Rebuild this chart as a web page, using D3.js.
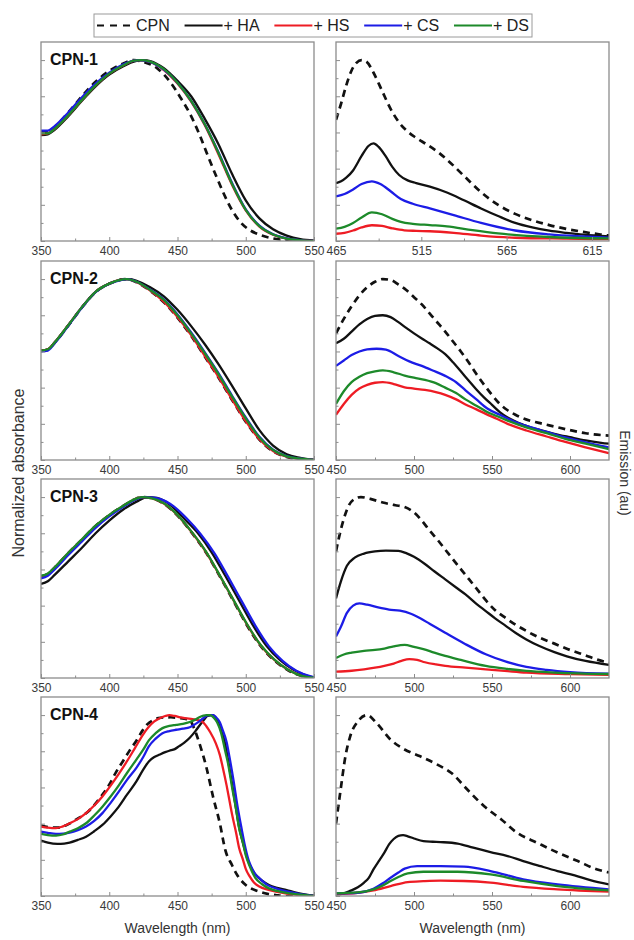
<!DOCTYPE html>
<html>
<head>
<meta charset="utf-8">
<script src="https://cdn.jsdelivr.net/npm/d3@7"></script>
<style>
  html, body { margin: 0; padding: 0; background: #fff; }
  svg { display: block; font-family: "Liberation Sans", Arial, Helvetica, sans-serif; }
</style>
</head>
<body>
<svg id="chart" width="634" height="940"></svg>
<script>
// ---- series & labels ----
const seriesNames  = ["CPN", "+ HA", "+ HS", "+ CS", "+ DS"];
const seriesColors = ["#111111", "#111111", "#ee1c24", "#1c1ce6", "#1d8a2a"];
const seriesDashed = [true, false, false, false, false];
const panelTitles  = ["CPN-1", "CPN-2", "CPN-3", "CPN-4"];

// ---- axes ----
const absDomain = [350, 550];
const absTicks  = [350, 400, 450, 500, 550];
const absMinor  = [375, 425, 475, 525];
const emDomains = [[465, 625], [450, 625], [450, 625], [450, 625]];
const emTicks   = [[465, 515, 565, 615], [450, 500, 550, 600], [450, 500, 550, 600], [450, 500, 550, 600]];
const emMinor   = [[490, 540, 590], [475, 525, 575], [475, 525, 575], [475, 525, 575]];
const yMajor    = [0, 0.2, 0.4, 0.6, 0.8, 1.0];
const yMinor    = [0.1, 0.3, 0.5, 0.7, 0.9];

// ---- CPN-1 absorbance [nm, normalized] ----
const abs1CPN = [[350,0.6],[355,0.6],[360,0.63],[370,0.71],[380,0.8],[390,0.88],[400,0.94],[410,0.98],[418,1.0],[425,0.99],[435,0.955],[445,0.875],[452,0.795],[460,0.69],[466,0.59],[472,0.475],[478,0.365],[484,0.26],[490,0.17],[496,0.105],[503,0.06],[510,0.035],[520,0.014],[535,0.004],[550,0.0]];
const abs1HA  = [[350,0.585],[355,0.59],[360,0.615],[370,0.69],[380,0.775],[390,0.855],[400,0.92],[410,0.965],[420,0.995],[425,1.0],[430,0.995],[440,0.955],[450,0.885],[460,0.8],[470,0.675],[480,0.535],[490,0.37],[500,0.225],[510,0.125],[520,0.065],[530,0.03],[540,0.01],[550,0.002]];
const abs1HS  = [[350,0.59],[355,0.595],[360,0.62],[370,0.695],[380,0.78],[390,0.86],[400,0.925],[410,0.97],[418,0.997],[422,1.0],[430,0.99],[440,0.945],[450,0.87],[460,0.77],[470,0.64],[480,0.48],[490,0.31],[500,0.17],[510,0.08],[520,0.035],[530,0.013],[540,0.004],[550,0.0]];
const abs1CS  = [[350,0.61],[355,0.61],[360,0.635],[370,0.71],[380,0.795],[390,0.87],[400,0.93],[410,0.975],[418,0.997],[422,1.0],[430,0.99],[440,0.947],[450,0.875],[460,0.775],[470,0.645],[480,0.49],[490,0.32],[500,0.175],[510,0.085],[520,0.037],[530,0.014],[540,0.004],[550,0.0]];
const abs1DS  = [[350,0.595],[355,0.595],[360,0.62],[370,0.695],[380,0.78],[390,0.86],[400,0.925],[410,0.97],[418,0.997],[423,1.0],[430,0.992],[440,0.95],[450,0.875],[460,0.775],[470,0.645],[480,0.487],[490,0.315],[500,0.172],[510,0.082],[520,0.036],[530,0.013],[540,0.004],[550,0.0]];

// ---- CPN-1 emission [nm, au] ----
const em1CPN = [[465,0.67],[468,0.76],[471,0.86],[474,0.94],[477,0.985],[480,1.0],[483,0.99],[487,0.93],[492,0.83],[497,0.73],[502,0.655],[507,0.605],[512,0.57],[518,0.535],[525,0.49],[530,0.45],[540,0.36],[550,0.27],[560,0.2],[570,0.15],[580,0.115],[590,0.088],[600,0.067],[610,0.05],[620,0.036],[625,0.03]];
const em1HA  = [[465,0.32],[468,0.33],[471,0.35],[475,0.39],[480,0.47],[484,0.525],[487,0.54],[490,0.52],[494,0.47],[498,0.41],[502,0.365],[507,0.335],[512,0.32],[520,0.3],[530,0.268],[540,0.225],[550,0.18],[560,0.138],[570,0.1],[580,0.075],[590,0.057],[600,0.045],[610,0.035],[625,0.026]];
const em1HS  = [[465,0.04],[470,0.045],[475,0.058],[480,0.075],[486,0.087],[492,0.083],[498,0.07],[505,0.059],[512,0.056],[520,0.054],[534,0.045],[550,0.03],[570,0.018],[600,0.013],[625,0.01]];
const em1CS  = [[465,0.247],[470,0.26],[475,0.285],[480,0.315],[486,0.33],[491,0.315],[497,0.275],[503,0.232],[510,0.206],[520,0.18],[534,0.143],[550,0.1],[570,0.058],[590,0.037],[610,0.025],[625,0.018]];
const em1DS  = [[465,0.068],[470,0.078],[475,0.1],[480,0.13],[486,0.158],[492,0.148],[498,0.122],[503,0.106],[510,0.095],[520,0.088],[530,0.081],[545,0.06],[560,0.042],[590,0.022],[625,0.014]];

// ---- CPN-2 absorbance ----
const abs2CPN = [[350,0.603],[355,0.61],[360,0.648],[370,0.743],[380,0.843],[390,0.928],[400,0.974],[410,0.998],[413,1.0],[420,0.982],[430,0.935],[440,0.872],[450,0.787],[460,0.686],[470,0.572],[480,0.456],[490,0.332],[500,0.212],[510,0.113],[520,0.048],[530,0.017],[540,0.005],[550,0.0]];
const abs2HA  = [[350,0.605],[355,0.612],[360,0.65],[370,0.745],[380,0.845],[390,0.93],[400,0.975],[410,0.998],[415,1.0],[420,0.99],[430,0.955],[440,0.905],[450,0.83],[460,0.74],[470,0.64],[480,0.53],[490,0.41],[500,0.285],[510,0.165],[520,0.08],[530,0.032],[540,0.012],[550,0.0]];
const abs2HS  = [[350,0.605],[355,0.612],[360,0.65],[370,0.745],[380,0.845],[390,0.93],[400,0.975],[410,0.998],[413,1.0],[420,0.983],[430,0.937],[440,0.875],[450,0.79],[460,0.69],[470,0.575],[480,0.46],[490,0.335],[500,0.215],[510,0.115],[520,0.05],[530,0.018],[540,0.006],[550,0.0]];
const abs2CS  = [[350,0.6],[355,0.605],[360,0.645],[370,0.742],[380,0.843],[390,0.928],[400,0.974],[410,0.997],[413,1.0],[420,0.985],[430,0.942],[440,0.888],[450,0.805],[460,0.705],[470,0.595],[480,0.48],[490,0.355],[500,0.235],[510,0.128],[520,0.057],[530,0.021],[540,0.007],[550,0.0]];
const abs2DS  = [[350,0.605],[355,0.612],[360,0.65],[370,0.745],[380,0.845],[390,0.93],[400,0.975],[410,0.998],[413,1.0],[420,0.985],[430,0.94],[440,0.885],[450,0.8],[460,0.7],[470,0.59],[480,0.475],[490,0.35],[500,0.23],[510,0.125],[520,0.055],[530,0.02],[540,0.007],[550,0.0]];

// ---- CPN-2 emission ----
const em2CPN = [[450,0.7],[455,0.78],[460,0.85],[465,0.91],[470,0.955],[475,0.985],[480,1.0],[485,0.995],[490,0.97],[495,0.94],[500,0.9],[505,0.86],[510,0.81],[515,0.76],[520,0.71],[525,0.655],[530,0.6],[535,0.54],[540,0.475],[545,0.415],[550,0.36],[555,0.31],[560,0.275],[565,0.25],[570,0.23],[580,0.205],[590,0.185],[600,0.165],[610,0.148],[620,0.138],[625,0.135]];
const em2HA  = [[450,0.645],[455,0.67],[460,0.71],[465,0.75],[470,0.78],[475,0.797],[480,0.8],[485,0.79],[490,0.762],[495,0.73],[500,0.7],[505,0.672],[510,0.645],[515,0.617],[520,0.585],[525,0.54],[530,0.49],[535,0.44],[540,0.39],[545,0.345],[550,0.305],[555,0.265],[560,0.235],[570,0.195],[580,0.168],[590,0.145],[600,0.126],[610,0.108],[620,0.095],[625,0.09]];
const em2HS  = [[450,0.25],[455,0.31],[460,0.36],[465,0.395],[470,0.415],[475,0.427],[480,0.43],[487,0.42],[494,0.402],[500,0.395],[507,0.387],[514,0.375],[520,0.36],[527,0.335],[533,0.307],[540,0.28],[546,0.255],[553,0.228],[560,0.2],[572,0.163],[585,0.13],[597,0.1],[610,0.07],[625,0.037]];
const em2CS  = [[450,0.52],[455,0.55],[460,0.58],[465,0.6],[470,0.612],[476,0.615],[482,0.61],[490,0.575],[497,0.545],[505,0.52],[512,0.495],[520,0.465],[527,0.43],[533,0.385],[540,0.335],[547,0.285],[555,0.25],[565,0.21],[575,0.18],[585,0.155],[597,0.125],[610,0.098],[625,0.07]];
const em2DS  = [[450,0.31],[455,0.38],[460,0.43],[465,0.46],[470,0.48],[475,0.49],[480,0.495],[487,0.485],[494,0.467],[500,0.455],[507,0.443],[514,0.425],[520,0.4],[527,0.37],[533,0.335],[540,0.3],[546,0.27],[553,0.243],[560,0.218],[572,0.18],[585,0.148],[597,0.117],[610,0.09],[625,0.06]];

// ---- CPN-3 absorbance ----
const abs3CPN = [[350,0.56],[355,0.575],[360,0.61],[370,0.69],[380,0.765],[390,0.84],[400,0.9],[410,0.95],[418,0.985],[424,1.0],[430,0.995],[440,0.963],[450,0.898],[461,0.798],[471,0.692],[481,0.562],[491,0.426],[501,0.29],[511,0.176],[521,0.097],[531,0.043],[541,0.011],[550,0.002]];
const abs3HA  = [[350,0.52],[355,0.535],[360,0.57],[370,0.645],[380,0.72],[390,0.8],[400,0.87],[410,0.93],[420,0.975],[428,1.0],[435,0.995],[445,0.955],[455,0.88],[465,0.8],[475,0.695],[485,0.565],[495,0.43],[505,0.295],[515,0.18],[525,0.1],[535,0.045],[545,0.012],[550,0.003]];
const abs3HS  = [[350,0.56],[355,0.575],[360,0.61],[370,0.69],[380,0.765],[390,0.84],[400,0.9],[410,0.95],[418,0.985],[424,1.0],[430,0.995],[440,0.965],[450,0.9],[461,0.8],[471,0.695],[481,0.565],[491,0.43],[501,0.295],[511,0.18],[521,0.1],[531,0.045],[541,0.012],[550,0.002]];
const abs3CS  = [[350,0.55],[355,0.565],[360,0.6],[370,0.68],[380,0.755],[390,0.83],[400,0.893],[410,0.945],[418,0.982],[425,1.0],[432,0.997],[437,0.99],[447,0.95],[457,0.88],[467,0.795],[477,0.69],[487,0.56],[497,0.425],[507,0.29],[517,0.175],[527,0.095],[537,0.04],[547,0.01],[550,0.004]];
const abs3DS  = [[350,0.565],[355,0.578],[360,0.612],[370,0.692],[380,0.767],[390,0.842],[400,0.902],[410,0.951],[418,0.986],[424,1.0],[430,0.995],[440,0.966],[450,0.902],[461,0.802],[471,0.697],[481,0.567],[491,0.432],[501,0.297],[511,0.182],[521,0.101],[531,0.046],[541,0.012],[550,0.002]];

// ---- CPN-3 emission ----
const em3CPN = [[450,0.7],[452,0.78],[455,0.88],[458,0.95],[462,0.99],[466,1.0],[472,0.99],[480,0.97],[488,0.955],[494,0.945],[500,0.915],[505,0.87],[510,0.815],[515,0.765],[520,0.71],[526,0.645],[533,0.57],[540,0.495],[546,0.43],[552,0.375],[559,0.33],[565,0.295],[572,0.26],[580,0.225],[590,0.19],[600,0.155],[610,0.125],[618,0.1],[625,0.085]];
const em3HA  = [[450,0.44],[453,0.53],[457,0.62],[462,0.665],[468,0.688],[475,0.7],[482,0.704],[490,0.703],[495,0.69],[500,0.67],[507,0.63],[513,0.59],[520,0.545],[527,0.5],[533,0.462],[540,0.41],[546,0.37],[552,0.33],[559,0.287],[565,0.25],[572,0.213],[580,0.178],[590,0.143],[598,0.12],[610,0.094],[625,0.072]];
const em3HS  = [[450,0.035],[460,0.04],[468,0.048],[475,0.057],[481,0.067],[487,0.08],[492,0.095],[497,0.104],[502,0.1],[507,0.087],[514,0.075],[520,0.067],[533,0.057],[546,0.048],[560,0.038],[572,0.03],[600,0.022],[625,0.017]];
const em3CS  = [[450,0.23],[453,0.28],[457,0.36],[461,0.4],[465,0.412],[470,0.405],[477,0.39],[484,0.378],[491,0.372],[498,0.355],[504,0.33],[510,0.3],[520,0.25],[533,0.187],[546,0.131],[559,0.09],[572,0.061],[585,0.045],[600,0.033],[625,0.024]];
const em3DS  = [[450,0.11],[455,0.13],[460,0.14],[468,0.15],[475,0.155],[481,0.163],[487,0.175],[494,0.183],[500,0.172],[506,0.16],[513,0.14],[520,0.122],[530,0.1],[546,0.067],[560,0.05],[572,0.039],[590,0.03],[625,0.022]];

// ---- CPN-4 absorbance ----
const abs4CPN = [[350,0.39],[356,0.38],[362,0.378],[368,0.39],[376,0.424],[385,0.47],[393,0.54],[400,0.615],[405,0.685],[410,0.745],[415,0.805],[420,0.86],[424,0.91],[428,0.95],[432,0.97],[436,0.983],[440,0.987],[445,0.988],[450,0.985],[455,0.98],[459,0.972],[462,0.93],[466,0.845],[471,0.716],[476,0.55],[481,0.402],[485,0.255],[490,0.17],[493,0.125],[500,0.061],[505,0.038],[510,0.024],[516,0.012],[522,0.005],[527,0.0],[550,0.0]];
const abs4HA  = [[350,0.306],[355,0.295],[362,0.288],[367,0.29],[371,0.295],[377,0.31],[383,0.328],[389,0.358],[395,0.393],[401,0.44],[407,0.494],[413,0.56],[420,0.635],[425,0.7],[429,0.744],[433,0.768],[437,0.782],[441,0.795],[444,0.803],[448,0.812],[451,0.827],[455,0.848],[459,0.875],[463,0.91],[466,0.941],[469,0.97],[472,0.996],[476,1.0],[478,0.985],[480,0.955],[482,0.915],[485,0.84],[487,0.753],[490,0.62],[493,0.476],[495,0.385],[498,0.292],[500,0.235],[503,0.17],[507,0.12],[512,0.085],[517,0.061],[523,0.045],[530,0.033],[536,0.02],[542,0.01],[550,0.002]];
const abs4HS  = [[350,0.384],[355,0.378],[361,0.375],[366,0.385],[371,0.402],[377,0.425],[383,0.458],[389,0.5],[395,0.55],[401,0.61],[407,0.675],[413,0.745],[419,0.82],[425,0.895],[429,0.935],[433,0.965],[437,0.983],[441,0.995],[444,1.0],[448,0.995],[452,0.987],[457,0.982],[461,0.978],[465,0.972],[468,0.965],[471,0.94],[474,0.905],[478,0.845],[481,0.78],[483,0.716],[486,0.61],[488,0.531],[490,0.45],[493,0.347],[495,0.27],[498,0.2],[500,0.15],[503,0.107],[506,0.075],[510,0.052],[516,0.035],[522,0.024],[530,0.013],[537,0.007],[550,0.0]];
const abs4CS  = [[350,0.356],[355,0.349],[361,0.343],[366,0.344],[371,0.35],[377,0.364],[383,0.384],[389,0.415],[395,0.458],[401,0.515],[407,0.577],[413,0.642],[420,0.71],[425,0.77],[429,0.827],[434,0.87],[439,0.9],[444,0.912],[449,0.919],[454,0.925],[459,0.933],[463,0.95],[466,0.965],[470,0.99],[473,1.0],[476,1.0],[478,0.99],[481,0.96],[483,0.919],[486,0.85],[488,0.771],[491,0.64],[494,0.494],[497,0.37],[499,0.292],[502,0.2],[504,0.162],[507,0.12],[510,0.098],[516,0.06],[522,0.042],[530,0.025],[540,0.01],[550,0.0]];
const abs4DS  = [[350,0.343],[355,0.337],[361,0.334],[366,0.34],[371,0.356],[377,0.375],[383,0.402],[389,0.445],[395,0.494],[401,0.55],[407,0.612],[413,0.68],[420,0.755],[425,0.81],[429,0.86],[434,0.9],[439,0.928],[444,0.94],[449,0.946],[454,0.952],[459,0.962],[463,0.975],[466,0.988],[469,0.997],[471,1.0],[474,1.0],[476,0.99],[479,0.96],[482,0.9],[485,0.8],[487,0.734],[490,0.6],[493,0.476],[495,0.38],[498,0.292],[500,0.225],[503,0.162],[507,0.1],[512,0.065],[517,0.042],[523,0.028],[530,0.017],[540,0.007],[550,0.0]];

// ---- CPN-4 emission ----
const em4CPN = [[450,0.4],[453,0.59],[456,0.77],[459,0.88],[464,0.965],[470,1.0],[476,0.956],[485,0.864],[494,0.81],[504,0.772],[515,0.726],[524,0.68],[534,0.59],[545,0.496],[556,0.423],[566,0.35],[579,0.294],[592,0.24],[605,0.193],[617,0.148],[625,0.13]];
const em4HA  = [[450,0.009],[455,0.015],[459,0.028],[464,0.048],[468,0.074],[471,0.1],[474,0.147],[478,0.2],[481,0.24],[484,0.285],[487,0.315],[490,0.332],[493,0.336],[496,0.33],[500,0.318],[506,0.303],[512,0.3],[517,0.298],[528,0.29],[538,0.267],[549,0.243],[560,0.221],[570,0.193],[581,0.165],[592,0.138],[603,0.114],[613,0.088],[625,0.064]];
const em4HS  = [[450,0.011],[464,0.018],[474,0.031],[485,0.055],[496,0.077],[506,0.082],[517,0.085],[532,0.083],[549,0.074],[570,0.051],[592,0.037],[625,0.024]];
const em4CS  = [[450,0.015],[464,0.018],[474,0.04],[480,0.07],[485,0.101],[490,0.13],[494,0.151],[502,0.165],[517,0.165],[532,0.162],[549,0.138],[570,0.092],[592,0.064],[625,0.037]];
const em4DS  = [[450,0.015],[464,0.02],[474,0.037],[480,0.058],[485,0.083],[490,0.105],[496,0.125],[506,0.134],[528,0.134],[549,0.119],[570,0.083],[592,0.055],[625,0.031]];

// series grouped per panel, in legend order
const absorbance = [
  [abs1CPN, abs1HA, abs1HS, abs1CS, abs1DS],
  [abs2CPN, abs2HA, abs2HS, abs2CS, abs2DS],
  [abs3CPN, abs3HA, abs3HS, abs3CS, abs3DS],
  [abs4CPN, abs4HA, abs4HS, abs4CS, abs4DS]
];
const emission = [
  [em1CPN, em1HA, em1HS, em1CS, em1DS],
  [em2CPN, em2HA, em2HS, em2CS, em2DS],
  [em3CPN, em3HA, em3HS, em3CS, em3DS],
  [em4CPN, em4HA, em4HS, em4CS, em4DS]
];

// ---- layout ----
const svg = d3.select("#chart");
const leftX = [41, 314], rightX = [336, 609];
const panelTops = [42, 261, 479, 697];
const panelH = 199;
const frameColor = "#8c8c8c";
const tickTextColor = "#3a3a3a";

svg.append("rect").attr("width", 634).attr("height", 940).attr("fill", "#fff");

function drawPanel(g, xRange, xDomain, majorX, minorX, top, series, title, showXTitle) {
  const x = d3.scaleLinear().domain(xDomain).range(xRange);
  const y = d3.scaleLinear().domain([0, 1.1]).range([top + panelH, top]);
  const bottom = top + panelH;

  const clipId = "clip" + Math.round(xRange[0]) + "_" + top;
  svg.append("clipPath").attr("id", clipId)
    .append("rect").attr("x", xRange[0]).attr("y", top)
    .attr("width", xRange[1] - xRange[0]).attr("height", panelH);

  // curves
  const line = d3.line().x(d => x(d[0])).y(d => y(d[1])).curve(d3.curveMonotoneX);
  const curves = g.append("g").attr("clip-path", `url(#${clipId})`);
  series.forEach((s, i) => {
    curves.append("path")
      .attr("d", line(s))
      .attr("fill", "none")
      .attr("stroke", seriesColors[i])
      .attr("stroke-width", seriesDashed[i] ? 2.7 : 2.3)
      .attr("stroke-dasharray", seriesDashed[i] ? "7,5" : null)
      .attr("stroke-linejoin", "round");
  });

  // bottom axis: labelled major ticks, pointing inward
  const xAxis = g.append("g").attr("transform", `translate(0,${bottom})`)
    .call(d3.axisBottom(x).tickValues(majorX).tickSize(-4).tickPadding(5).tickFormat(d3.format("d")));
  g.append("g").attr("transform", `translate(0,${bottom})`)
    .call(d3.axisBottom(x).tickValues(minorX).tickSize(-2.5).tickFormat(""))
    .call(a => a.select(".domain").remove());
  xAxis.select(".domain").remove();
  g.selectAll(".tick line").attr("stroke", frameColor).attr("stroke-width", 1);
  xAxis.selectAll(".tick text")
    .attr("fill", tickTextColor)
    .style("font-size", "12px")
    .style("font-family", "'Liberation Sans', Arial, sans-serif");

  // left axis: unlabelled inward ticks
  g.append("g").attr("transform", `translate(${xRange[0]},0)`)
    .call(d3.axisLeft(y).tickValues(yMajor).tickSize(-4).tickFormat(""))
    .call(a => a.select(".domain").remove())
    .selectAll(".tick line").attr("stroke", frameColor).attr("stroke-width", 1);
  g.append("g").attr("transform", `translate(${xRange[0]},0)`)
    .call(d3.axisLeft(y).tickValues(yMinor).tickSize(-2.5).tickFormat(""))
    .call(a => a.select(".domain").remove())
    .selectAll(".tick line").attr("stroke", frameColor).attr("stroke-width", 1);

  // frame
  g.append("rect")
    .attr("x", xRange[0]).attr("y", top)
    .attr("width", xRange[1] - xRange[0]).attr("height", panelH)
    .attr("fill", "none").attr("stroke", frameColor).attr("stroke-width", 1.3);

  if (title) {
    g.append("text").attr("x", xRange[0] + 9).attr("y", top + 23)
      .attr("font-size", 16).attr("font-weight", "bold").attr("fill", "#111")
      .text(title);
  }
  if (showXTitle) {
    g.append("text")
      .attr("x", (xRange[0] + xRange[1]) / 2).attr("y", bottom + 37)
      .attr("text-anchor", "middle").attr("font-size", 14).attr("fill", "#333")
      .text("Wavelength (nm)");
  }
}

panelTitles.forEach((t, p) => {
  const last = p === panelTitles.length - 1;
  drawPanel(svg.append("g"), leftX, absDomain, absTicks, absMinor, panelTops[p], absorbance[p], t, last);
  drawPanel(svg.append("g"), rightX, emDomains[p], emTicks[p], emMinor[p], panelTops[p], emission[p], null, last);
});

// axis titles
svg.append("text")
  .attr("transform", "translate(24,473) rotate(-90)")
  .attr("text-anchor", "middle").attr("font-size", 16).attr("fill", "#333")
  .text("Normalized absorbance");
svg.append("text")
  .attr("transform", "translate(620,473) rotate(90)")
  .attr("text-anchor", "middle").attr("font-size", 14).attr("fill", "#333")
  .text("Emission (au)");

// legend
const legend = svg.append("g");
const box = { x: 94, y: 14, w: 438, h: 23 };
legend.append("rect").attr("x", box.x).attr("y", box.y).attr("width", box.w).attr("height", box.h)
  .attr("fill", "#fff").attr("stroke", "#9a9a9a").attr("stroke-width", 1);
const lineLen = 38, textGap = 1, pad = 3;
const labels = seriesNames.map(n => legend.append("text").attr("y", 31).attr("font-size", 16).attr("fill", "#222").text(n));
const widths = labels.map(l => l.node().getComputedTextLength());
const used = d3.sum(widths) + seriesNames.length * (lineLen + textGap);
const gap = (box.w - 2 * pad - used) / (seriesNames.length - 1);
let cx = box.x + pad;
seriesNames.forEach((n, i) => {
  legend.append("line")
    .attr("x1", cx).attr("x2", seriesDashed[i] ? cx + 34 : cx + lineLen).attr("y1", 25.5).attr("y2", 25.5)
    .attr("stroke", seriesColors[i]).attr("stroke-width", 2)
    .attr("stroke-dasharray", seriesDashed[i] ? "7,6" : null);
  labels[i].attr("x", cx + lineLen + textGap);
  cx += lineLen + textGap + widths[i] + gap;
});
</script>
</body>
</html>
